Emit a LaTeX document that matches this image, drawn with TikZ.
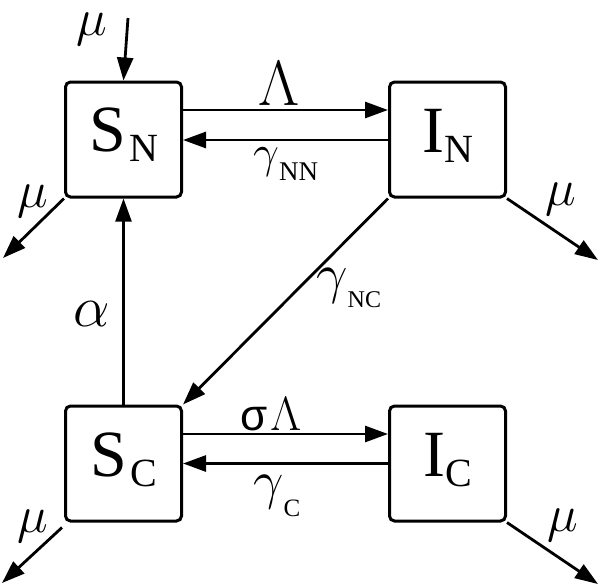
\RequirePackage{fix-cm}
\documentclass[tikz,border=0pt]{standalone}
\usepackage{fontspec}
\setmainfont{Liberation Serif}
\newfontfamily\sigmafont{Liberation Sans}
\usetikzlibrary{arrows.meta}
\tikzset{
  comp/.style={draw, line width=3pt, rounded corners=5pt, minimum width=116pt, minimum height=115pt, inner sep=0pt},
  flow/.style={line width=2.8pt, -{Triangle[length=23pt,width=16pt]}},
  big/.style={inner sep=0pt, font=\fontsize{66}{66}\selectfont},
  mulab/.style={inner sep=0pt, font=\fontsize{52}{52}\selectfont},
  ratelab/.style={inner sep=0pt},
}
\newcommand{\mysubs}[3]{\raisebox{-#1}{\fontsize{#2}{#2}\selectfont #3}}
\begin{document}
\begin{tikzpicture}[x=1pt,y=-1pt]
\useasboundingbox (0,0) rectangle (600,587);
% compartments
\node[comp] (sn) at (123.5,139.5) {};
\node[comp] (in) at (447.5,139.5) {};
\node[comp] (sc) at (123.5,463.5) {};
\node[comp] (ic) at (447.5,463.5) {};
\node[big, anchor=base] (snt) at (124,151) {S\kern3pt\mysubs{10pt}{40}{N}};
\node[big, anchor=base] (int) at (447.5,152) {I\mysubs{10pt}{40}{N}};
\node[big, anchor=base] (sct) at (124,476) {S\kern3pt\mysubs{10pt}{40}{C}};
\node[big, anchor=base] (ict) at (447.5,476) {I\mysubs{10pt}{40}{C}};
% free ends
\coordinate (muin) at (128,18);
\coordinate (snout) at (3,258);
\coordinate (inout) at (598,260);
\coordinate (scout) at (2,583);
\coordinate (icout) at (598,584);
% transitions
\draw[flow] ([yshift=29.5pt]sn.east) -- ([yshift=29.5pt]in.west);
\draw[flow] ([yshift=-0.5pt]in.west) -- ([yshift=-0.5pt]sn.east);
\draw[flow] ([yshift=29.5pt]sc.east) -- ([yshift=29.5pt]ic.west);
\draw[flow] (ic.west) -- (sc.east);
\draw[flow, line width=2.2pt] (sc.north) -- (sn.south);
\draw[flow] (in.south west) -- (sc.north east);
% births and deaths
\draw[flow] (muin) -- (sn.north);
\draw[flow] (sn.south west) -- (snout);
\draw[flow] (in.south east) -- (inout);
\draw[flow] ([shift={(-2pt,-5pt)}]sc.south west) -- (scout);
\draw[flow] (ic.south east) -- (icout);
% labels
\node[mulab] (mu1) at (92,29) {$\mu$};
\node[mulab] (mu2) at (33,201) {$\mu$};
\node[mulab] (mu3) at (561,199) {$\mu$};
\node[mulab] (mu4) at (33,526) {$\mu$};
\node[mulab] (mu5) at (563,525) {$\mu$};
\node[inner sep=0pt, font=\fontsize{58}{58}\selectfont] (al) at (92,314) {$\alpha$};
\node[ratelab, anchor=base, font=\fontsize{64}{64}\selectfont] (lam) at (279,105) {$\Lambda$};
\node[ratelab, anchor=base west, font=\fontsize{46}{46}\selectfont] (gnn) at (253,167) {$\gamma$\mysubs{13pt}{27}{NN}};
\node[ratelab, anchor=base west] (sl) at (240,430) {{\sigmafont\fontsize{44}{44}\selectfont σ}\kern3pt{\fontsize{48}{48}\selectfont$\Lambda$}};
\node[ratelab, anchor=base west, font=\fontsize{54}{54}\selectfont] (gc) at (253,498) {$\gamma$\mysubs{18pt}{25}{C}};
\node[ratelab, anchor=base west, font=\fontsize{56}{56}\selectfont] (gnc) at (316,292) {$\gamma$\mysubs{15pt}{24}{NC}};
\end{tikzpicture}
\end{document}
